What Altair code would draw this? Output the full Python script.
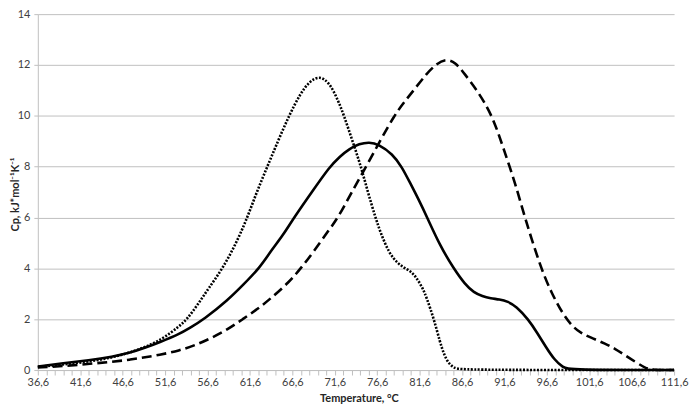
import altair as alt
import pandas as pd

# Solid curve
solid_t = [36.6, 39.6, 42.6, 45.4, 47.5, 49.3, 51.0, 53.2, 54.5, 56.2, 59.0, 60.8, 62.7, 64.0, 65.5,
           66.8, 69.0, 71.0, 72.2, 73.3, 74.5, 75.65, 76.8, 78.4, 79.5, 80.5, 81.5, 82.5, 84.0, 85.6,
           87.0, 88.0, 89.0, 90.0, 91.0, 92.0, 93.0, 94.4, 95.5, 96.5, 97.5, 98.5, 99.3, 111.6]
solid_cp = [0.14, 0.27, 0.38, 0.52, 0.68, 0.88, 1.1, 1.4, 1.65, 2.0, 2.75, 3.35, 4.0, 4.65, 5.3,
            6.0, 7.05, 8.0, 8.4, 8.7, 8.9, 8.97, 8.88, 8.5, 8.0, 7.35, 6.7, 6.0, 4.9, 4.0,
            3.35, 3.05, 2.9, 2.82, 2.78, 2.7, 2.5, 2.0, 1.45, 0.9, 0.4, 0.1, 0.0, 0.0]

# Dotted curve
dotted_t = [36.6, 39.6, 42.6, 45.6, 48.9, 51.3, 53.2, 54.2, 55.5, 56.7, 58.4, 60.0, 61.3, 62.4, 63.65,
            64.9, 66.2, 67.5, 68.6, 69.8, 71.0, 72.0, 72.7, 73.7, 74.7, 75.5, 76.4, 77.0, 78.0, 79.0,
            79.9, 80.7, 81.3, 82.0, 82.4, 83.3, 84.0, 84.5, 85.0, 85.7, 86.5, 111.6]
dotted_cp = [0.12, 0.22, 0.33, 0.5, 0.84, 1.22, 1.7, 2.0, 2.6, 3.2, 4.0, 5.0, 6.0, 7.0, 8.0,
             9.0, 10.0, 10.85, 11.35, 11.58, 11.3, 10.6, 10.0, 9.0, 8.0, 7.0, 6.0, 5.4, 4.6, 4.2,
             4.0, 3.85, 3.6, 3.2, 2.87, 2.0, 1.1, 0.6, 0.27, 0.07, 0.0, 0.0]

# Dashed curve
dashed_t = [36.6, 39.6, 43.5, 47.4, 51.3, 53.2, 55.1, 57.0, 59.0, 60.75, 62.5, 64.0, 66.2, 67.6, 69.1,
            71.0, 72.0, 73.6, 75.3, 77.0, 78.6, 79.8, 80.9, 82.4, 83.6, 84.7, 85.8, 86.9, 88.4, 90.2,
            91.5, 92.9, 94.0, 95.9, 97.2, 98.5, 99.6, 100.6, 102.0, 103.5, 104.6, 105.8, 107.0, 108.2,
            109.0, 111.6]
dashed_cp = [0.1, 0.15, 0.27, 0.39, 0.62, 0.76, 0.97, 1.25, 1.6, 2.0, 2.4, 2.8, 3.45, 4.0, 4.65,
             5.55, 6.0, 7.0, 8.0, 9.05, 10.0, 10.55, 11.0, 11.65, 12.05, 12.24, 12.12, 11.65, 11.0, 10.0,
             8.7, 7.33, 6.0, 4.0, 3.0, 2.2, 1.72, 1.45, 1.25, 1.03, 0.85, 0.58, 0.33, 0.08,
             0.0, 0.0]

x_ticks = [round(36.6 + k, 1) for k in range(76)]
y_ticks = [0, 2, 4, 6, 8, 10, 12, 14]

FONT = "Lato"
GRAY = "#bfbfbf"

x_enc = alt.X(
    "t:Q",
    scale=alt.Scale(domain=[36.6, 111.6], nice=False, zero=False),
    axis=alt.Axis(
        values=x_ticks,
        labelExpr="(round(datum.value*10) - 366) % 50 == 0 ? replace(format(datum.value, '.1f'), '.', ',') : ''",
        grid=False,
        domainColor=GRAY,
        tickColor=GRAY,
        tickSize=5,
        labelPadding=2,
        labelFont=FONT,
        labelFontSize=11,
        labelColor="#404040",
        labelOverlap=False,
        labelFlush=False,
        title="Temperature, °C",
        titleFont=FONT,
        titleFontSize=11,
        titleFontWeight="bold",
        titleColor="#262626",
        titleX=323,
        titleY=29,
        titleBaseline="middle",
    ),
)

y_enc = alt.Y(
    "cp:Q",
    scale=alt.Scale(domain=[0, 14], nice=False),
    axis=alt.Axis(
        values=y_ticks,
        grid=True,
        gridColor=GRAY,
        gridWidth=1,
        domainColor=GRAY,
        tickColor=GRAY,
        tickSize=4,
        labelPadding=4,
        labelFont=FONT,
        labelFontSize=11,
        labelColor="#404040",
        title="Cp, kJ*mol⁻¹K⁻¹",
        titleFont=FONT,
        titleFontSize=11,
        titleFontWeight="bold",
        titleColor="#262626",
        titleX=-17,
        titleY=181,
    ),
)

def curve(t, cp, dash):
    df = pd.DataFrame({"t": t, "cp": cp})
    kw = dict(color="black", strokeWidth=2.6, interpolate="basis", strokeCap="butt")
    if dash:
        kw["strokeDash"] = dash
    return alt.Chart(df).mark_line(**kw).encode(x=x_enc, y=y_enc)

chart = alt.layer(
    curve(dotted_t, dotted_cp, [2, 1.5]),
    curve(dashed_t, dashed_cp, [10, 5]),
    curve(solid_t, solid_cp, None),
).properties(
    width=640,
    height=358,
    padding={"left": 30, "top": 5, "right": 15, "bottom": 36},
    autosize=alt.AutoSizeParams(type="none"),
).configure_view(strokeWidth=0)

chart.save("out.html", embed_options={"renderer": "svg", "actions": False})
